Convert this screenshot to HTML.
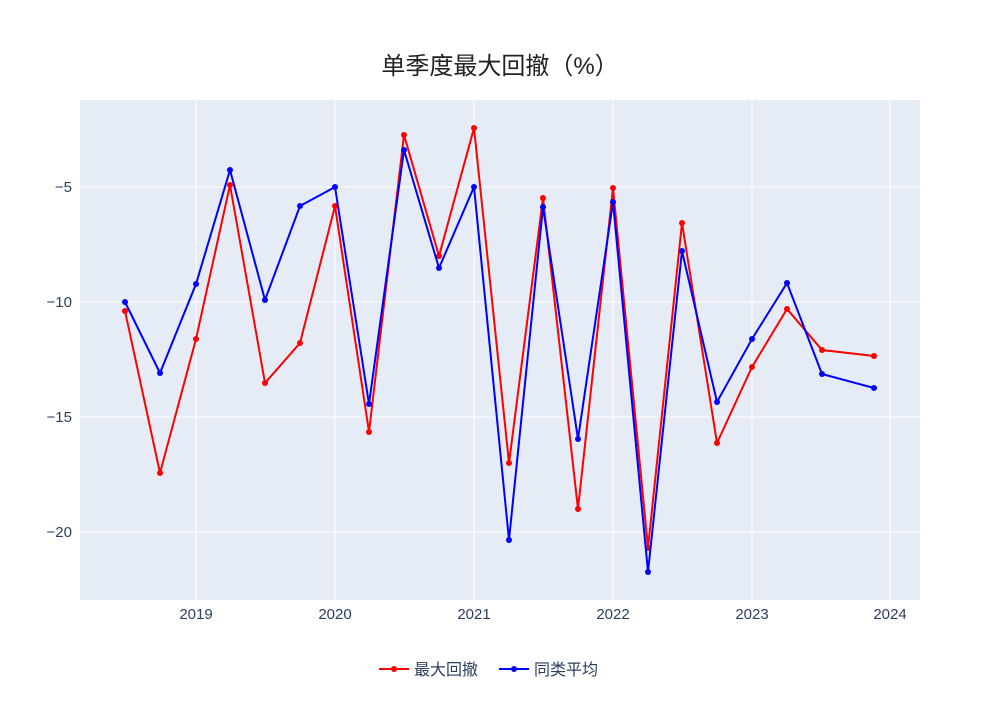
<!DOCTYPE html>
<html><head><meta charset="utf-8"><style>
html,body{margin:0;padding:0;background:#fff;}
svg text{font-family:"Liberation Sans","Noto Sans CJK SC",sans-serif;fill:#2a3f5f;}
</style></head><body>
<svg width="1000" height="700" xmlns="http://www.w3.org/2000/svg">
<rect x="80" y="100" width="840" height="500" fill="#e5ecf6"/>
<g stroke="#fff" stroke-width="1">
<line x1="80" x2="920" y1="187" y2="187"/><line x1="80" x2="920" y1="302" y2="302"/>
<line x1="80" x2="920" y1="417" y2="417"/><line x1="80" x2="920" y1="532" y2="532"/>
<line x1="196" x2="196" y1="100" y2="600"/><line x1="335" x2="335" y1="100" y2="600"/>
<line x1="474" x2="474" y1="100" y2="600"/><line x1="613" x2="613" y1="100" y2="600"/>
<line x1="752" x2="752" y1="100" y2="600"/><line x1="890" x2="890" y1="100" y2="600"/>
</g>
<g font-size="15" text-anchor="end">
<text x="72" y="192">−5</text><text x="72" y="307">−10</text><text x="72" y="422">−15</text><text x="72" y="537">−20</text>
</g>
<g font-size="15" text-anchor="middle">
<text x="196" y="619">2019</text><text x="335" y="619">2020</text><text x="474" y="619">2021</text>
<text x="613" y="619">2022</text><text x="752" y="619">2023</text><text x="890" y="619">2024</text>
</g>
<text x="500" y="74" font-size="24" text-anchor="middle" style="fill:#222">单季度最大回撤（%）</text>
<polyline fill="none" stroke="#ff0000" stroke-width="2" points="125,311 160,473 196,339 230,185 265,383 300,343 335,206 369,432 404,135 439,256 474,128 509,463 543,198 578,509 613,188 648,548 682,223 717,443 752,367 787,309 822,350 874,356"/>
<g fill="#ff0000">
<circle cx="125" cy="311" r="3"/><circle cx="160" cy="473" r="3"/><circle cx="196" cy="339" r="3"/><circle cx="230" cy="185" r="3"/><circle cx="265" cy="383" r="3"/><circle cx="300" cy="343" r="3"/><circle cx="335" cy="206" r="3"/><circle cx="369" cy="432" r="3"/><circle cx="404" cy="135" r="3"/><circle cx="439" cy="256" r="3"/><circle cx="474" cy="128" r="3"/><circle cx="509" cy="463" r="3"/><circle cx="543" cy="198" r="3"/><circle cx="578" cy="509" r="3"/><circle cx="613" cy="188" r="3"/><circle cx="648" cy="548" r="3"/><circle cx="682" cy="223" r="3"/><circle cx="717" cy="443" r="3"/><circle cx="752" cy="367" r="3"/><circle cx="787" cy="309" r="3"/><circle cx="822" cy="350" r="3"/><circle cx="874" cy="356" r="3"/>
</g>
<polyline fill="none" stroke="#0000ff" stroke-width="2" points="125,302 160,373 196,284 230,170 265,300 300,206 335,187 369,404 404,150 439,268 474,187 509,540 543,207 578,439 613,202 648,572 682,251 717,402 752,339 787,283 822,374 874,388"/>
<g fill="#0000ff">
<circle cx="125" cy="302" r="3"/><circle cx="160" cy="373" r="3"/><circle cx="196" cy="284" r="3"/><circle cx="230" cy="170" r="3"/><circle cx="265" cy="300" r="3"/><circle cx="300" cy="206" r="3"/><circle cx="335" cy="187" r="3"/><circle cx="369" cy="404" r="3"/><circle cx="404" cy="150" r="3"/><circle cx="439" cy="268" r="3"/><circle cx="474" cy="187" r="3"/><circle cx="509" cy="540" r="3"/><circle cx="543" cy="207" r="3"/><circle cx="578" cy="439" r="3"/><circle cx="613" cy="202" r="3"/><circle cx="648" cy="572" r="3"/><circle cx="682" cy="251" r="3"/><circle cx="717" cy="402" r="3"/><circle cx="752" cy="339" r="3"/><circle cx="787" cy="283" r="3"/><circle cx="822" cy="374" r="3"/><circle cx="874" cy="388" r="3"/>
</g>
<line x1="379" x2="409" y1="669" y2="669" stroke="#ff0000" stroke-width="2"/><circle cx="394" cy="669" r="3" fill="#ff0000"/>
<text x="414" y="675" font-size="16">最大回撤</text>
<line x1="499" x2="529" y1="669" y2="669" stroke="#0000ff" stroke-width="2"/><circle cx="514" cy="669" r="3" fill="#0000ff"/>
<text x="534" y="675" font-size="16">同类平均</text>
</svg>
</body></html>
